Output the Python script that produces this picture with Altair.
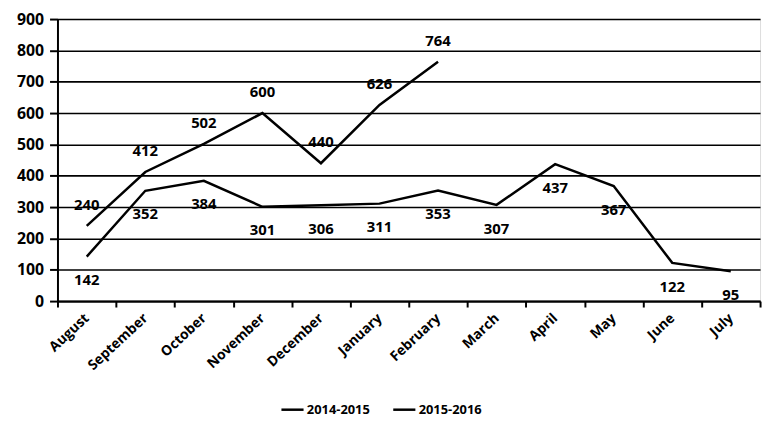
import altair as alt
import pandas as pd

months = ["August", "September", "October", "November", "December", "January",
          "February", "March", "April", "May", "June", "July"]
series_names = ["2014-2015", "2015-2016"]
values_2014 = [240, 412, 502, 600, 440, 626, 764, None, None, None, None, None]
values_2015 = [142, 352, 384, 301, 306, 311, 353, 307, 437, 367, 122, 95]
y_ticks = [0, 100, 200, 300, 400, 500, 600, 700, 800, 900]

rows = []
for name, vals in zip(series_names, [values_2014, values_2015]):
    for m, v in zip(months, vals):
        if v is not None:
            rows.append({"month": m, "value": v, "series": name})
df = pd.DataFrame(rows)

FONT = "Open Sans"

x = alt.X("month:N", sort=months, scale=alt.Scale(paddingInner=0, paddingOuter=0),
          axis=alt.Axis(title=None, labelAngle=-43, labelAlign="right", labelBaseline="middle",
                        tickBand="extent", domainColor="black", domainWidth=2, tickColor="black",
                        tickWidth=2, tickSize=6, labelFont=FONT, labelFontSize=14,
                        labelFontWeight="bold", labelColor="black", labelPadding=9, grid=False))
y = alt.Y("value:Q", scale=alt.Scale(domain=[0, 900], nice=False),
          axis=alt.Axis(title=None, values=y_ticks, tickCount=10, grid=True, gridColor="black",
                        gridWidth=1.6, labelOverlap=False,
                        domainColor="black", domainWidth=2, tickColor="black", tickWidth=2,
                        tickSize=8, labelFont=FONT, labelFontSize=16, labelFontWeight="bold",
                        labelColor="black", labelPadding=6))

color = alt.Color("series:N", sort=series_names,
                  scale=alt.Scale(domain=series_names, range=["black", "black"]),
                  legend=alt.Legend(title=None, orient="none", direction="horizontal",
                                    legendX=225, legendY=382, symbolType="stroke",
                                    symbolSize=500, symbolStrokeWidth=2.5, labelFont=FONT,
                                    labelFontSize=13, labelFontWeight="bold", labelColor="black",
                                    labelOffset=2))

lines = alt.Chart(df).mark_line(strokeWidth=2.5).encode(x=x, y=y, color=color, detail="series:N")

labels_top = alt.Chart(df[df.series == "2014-2015"]).mark_text(
    dy=-21, font=FONT, fontSize=15, fontWeight="bold", color="black"
).encode(x=x, y=y, text="value:Q")

labels_bottom = alt.Chart(df[df.series == "2015-2016"]).mark_text(
    dy=24, font=FONT, fontSize=15, fontWeight="bold", color="black"
).encode(x=x, y=y, text="value:Q")

chart = alt.layer(lines, labels_top, labels_bottom).properties(
    width=710, height=285,
    autosize=alt.AutoSizeParams(type="none"),
    padding={"left": 50, "top": 9, "right": 6, "bottom": 120},
).configure_view(stroke=None).configure(background="white").configure_legend(columnPadding=18)

chart.save("out.html", embed_options={"renderer": "svg", "actions": False})
